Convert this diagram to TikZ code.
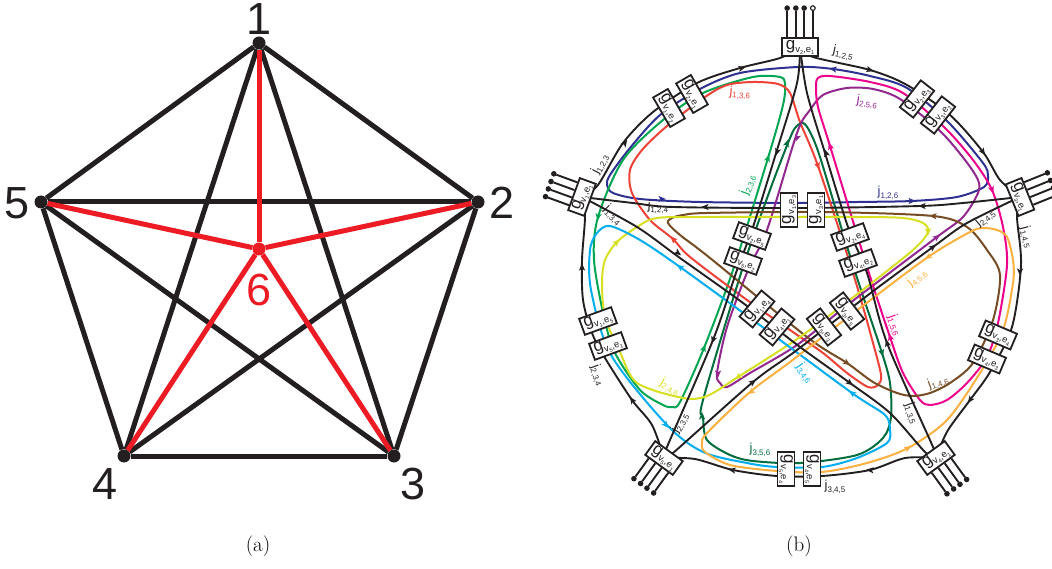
\documentclass[tikz,border=0pt]{standalone}
\usepackage{fontspec}
\newfontfamily\labelfont{Liberation Sans}
\usetikzlibrary{calc,backgrounds}
\definecolor{DarkLine}{RGB}{35,31,32}
\definecolor{RedEdge}{RGB}{237,28,36}
\definecolor{WireNavy}{RGB}{46,49,146}
\definecolor{WireGreen}{RGB}{0,166,81}
\definecolor{WireRed}{RGB}{239,65,54}
\definecolor{WireDark}{RGB}{0,110,60}
\definecolor{WirePurple}{RGB}{146,39,143}
\definecolor{WireMagenta}{RGB}{236,0,140}
\definecolor{WireBrown}{RGB}{117,76,36}
\definecolor{WireLime}{RGB}{215,223,35}
\definecolor{WireCyan}{RGB}{0,174,239}
\definecolor{WireOrange}{RGB}{251,176,64}
\newcommand{\gname}[2]{{\fontsize{17}{17}\selectfont g}\raisebox{-3pt}{\fontsize{9.5}{10}\selectfont v\raisebox{-2pt}{\fontsize{5.5}{6}\selectfont #1},e\raisebox{-2pt}{\fontsize{5.5}{6}\selectfont #2}}}
\newcommand{\jname}[1]{j\raisebox{-2.5pt}{\fontsize{8}{8}\selectfont #1}}
\tikzset{
  edgeline/.style={DarkLine,line width=5pt},
  rededge/.style={RedEdge,line width=5pt},
  vertexdot/.style={circle,fill=DarkLine,inner sep=0pt,minimum size=13pt},
  numlabel/.style={font=\labelfont\fontsize{45}{45}\selectfont,text=DarkLine,inner sep=0pt},
  gbox/.style={draw=DarkLine,fill=white,line width=1.8pt,minimum width=34pt,
    minimum height=17pt,inner sep=0pt,font=\labelfont,text=DarkLine},
  wire/.style={line width=1.9pt,DarkLine},
  loopwire/.style={line width=2pt},
  jlabel/.style={font=\labelfont\fontsize{13}{13}\selectfont,inner sep=0pt},
  stubtip/.style={circle,draw=DarkLine,fill=DarkLine,line width=1pt,inner sep=0pt,minimum size=4.5pt},
}
\begin{document}
\begin{tikzpicture}[x=1pt,y=-1pt]
\useasboundingbox (0,0) rectangle (1052,569);
% graph
\node[vertexdot] (n1) at (259,43) {};
\node[vertexdot] (n2) at (478,202) {};
\node[vertexdot] (n3) at (394,456) {};
\node[vertexdot] (n4) at (124,456) {};
\node[vertexdot] (n5) at (41,202) {};
\node[circle,fill=RedEdge,inner sep=0pt,minimum size=13pt] (n6) at (259,249) {};
\begin{scope}[on background layer]
\foreach \a/\b in {1/2,2/3,3/4,4/5,5/1,1/3,1/4,2/4,2/5,3/5}
  \draw[edgeline] (n\a) -- (n\b);
\foreach \a in {1,...,5}
  \draw[rededge] (n\a) -- (n6);
\end{scope}
\node[numlabel] (l1) at (259,19) {1};
\node[numlabel] (l2) at (502,203) {2};
\node[numlabel] (l3) at (413,484) {3};
\node[numlabel] (l4) at (105,484) {4};
\node[numlabel] (l5) at (17,203) {5};
\node[numlabel,text=RedEdge] (l6) at (259,290) {6};
\node[font=\fontsize{21}{21}\selectfont] (capa) at (258,546) {(a)};
\node[font=\fontsize{21}{21}\selectfont] (capb) at (799,546) {(b)};
% vertex boxes
\node[gbox,minimum width=36pt,minimum height=18pt] (vT) at (800,47) {\gname{2}{1}};
\node[gbox,rotate=70] (vL) at (582,197) {\gname{1}{1}};
\node[gbox,rotate=-68] (vR) at (1020,197) {\gname{3}{1}};
\node[gbox,rotate=-36] (vA) at (664,458) {\gname{5}{1}};
\node[gbox,rotate=36] (vB) at (936,458) {\gname{4}{1}};
% edge boxes
\foreach \n/\x/\y/\r/\i/\e in {
  a/669/108/-60/1/2,b/692/94/-60/2/1,c/917/99/52/2/3,d/938/115/52/3/2,
  e/598/321/20/1/5,f/608/346/20/5/1,g/998/335/-23/3/4,h/987/359/-23/4/3,
  i/786/469/-90/5/4,j/812/469/-90/4/5,k/789/210/90/1/3,l/816/210/90/3/1,
  m/752/236/-20/2/5,o/743/261/-20/5/2,p/850/237/20/2/4,q/858/263/20/4/2,
  r/757/309/50/1/4,s/777/327/50/4/1,t/824/327/-52/5/3,u/847/311/-52/3/5}
  \node[gbox,rotate=\r] (g\n) at (\x,\y) {\gname{\i}{\e}};
% stubs
\foreach \b/\l/\r/\d in {vT/north west/north east/29,vL/north west/north east/25,
  vR/north west/north east/25,vA/south east/south west/25,vB/south east/south west/26}
  \foreach \p/\i in {.16/1,.39/2,.61/3,.84/4}{
    \coordinate (s\b\i) at ($(\b.\l)!\p!(\b.\r)$);
    \coordinate (e\b\i) at ($(s\b\i)!\d pt!90:(\b.\r)$);
    \node[stubtip] (t\b\i) at (e\b\i) {};
    \draw[wire] (s\b\i) -- (t\b\i);
  }
\node[stubtip,fill=white] (tvTw) at (evT4) {};
% wires
\begin{scope}[on background layer]
\draw[loopwire,WireNavy] plot[smooth cycle] coordinates {(798,67) (740,73) (700,89) (660,115) (630,148) (610,175) (607,185) (613,193) (640,199) (700,202) (800,203) (857,202) (912,201) (957,197) (984,187) (988,176) (983,163) (948,122) (907,88) (870,76) (833,69)};
\draw[loopwire,WireGreen] plot[smooth cycle] coordinates {(785,84) (780,77) (753,77) (703,93) (663,120) (623,160) (598,217) (594,260) (604,317) (615,353) (640,390) (663,405) (672,407) (680,402) (704,348) (733,270) (768,158) (783,105)};
\draw[loopwire,WireRed] plot[smooth cycle] coordinates {(630,170) (632,193) (650,220) (673,239) (690,257) (747,300) (790,330) (823,353) (847,373) (868,387) (878,385) (881,375) (873,343) (853,273) (818,166) (800,122) (790,93) (778,84) (753,82) (727,85) (705,97) (667,126) (642,150)};
\draw[loopwire,WireDark] plot[smooth cycle] coordinates {(703,417) (707,440) (730,455) (753,461) (800,463) (857,455) (883,438) (891,417) (890,383) (882,353) (862,293) (845,240) (820,157) (810,132) (803,123) (795,128) (788,143) (770,190) (742,270) (703,400)};
\draw[loopwire,WirePurple] plot[smooth cycle] coordinates {(720,383) (717,373) (727,327) (748,270) (767,230) (797,133) (810,110) (823,95) (847,88) (873,89) (900,99) (940,131) (965,160) (978,180) (978,193) (963,217) (937,237) (850,303) (797,345) (750,373) (727,387)};
\draw[loopwire,WireMagenta] plot[smooth cycle] coordinates {(818,78) (830,76) (870,82) (903,93) (944,127) (973,160) (992,190) (1003,227) (1007,265) (998,323) (987,357) (967,383) (947,400) (930,405) (920,400) (903,373) (890,337) (868,270) (830,146) (818,107) (816,87)};
\draw[loopwire,WireBrown] plot[smooth cycle] coordinates {(668,223) (672,218) (683,215) (707,213) (823,212) (933,216) (967,227) (987,250) (1000,275) (993,320) (973,363) (950,383) (930,393) (913,396) (897,393) (873,382) (847,363) (807,337) (710,258) (680,235)};
\draw[loopwire,WireLime] plot[smooth cycle] coordinates {(928,232) (923,223) (903,218) (857,217) (707,217) (657,218) (637,227) (617,242) (605,260) (602,283) (605,317) (620,352) (637,383) (683,398) (707,396) (738,377) (800,337) (860,292) (913,250)};
\draw[loopwire,WireCyan] plot[smooth cycle] coordinates {(610,226) (597,233) (590,250) (591,290) (611,355) (667,425) (703,452) (747,463) (777,467) (822,467) (857,458) (887,443) (890,430) (885,415) (852,393) (757,323) (680,267) (640,240)};
\draw[loopwire,WireOrange] plot[smooth cycle] coordinates {(702,443) (705,452) (730,465) (777,471) (822,472) (867,463) (908,448) (947,420) (980,373) (1003,330) (1013,283) (1013,260) (1007,237) (997,230) (983,228) (970,232) (928,257) (860,308) (790,362) (750,392) (707,433)};
% black edges
\draw[wire] plot[smooth] coordinates {(vL) (598,185) (623,143) (653,112) (697,83) (740,68) (780,58) (vT)};
\draw[wire] plot[smooth] coordinates {(vT) (813,57) (870,70) (907,85) (950,115) (983,152) (1000,180) (vR)};
\draw[wire] plot[smooth] coordinates {(vR) (1017,217) (1021,265) (1012,327) (990,372) (970,400) (950,427) (943,440) (vB)};
\draw[wire] plot[smooth] coordinates {(vB) (905,458) (870,470) (822,476) (777,476) (733,470) (695,459) (vA)};
\draw[wire] plot[smooth] coordinates {(vA) (652,425) (632,400) (605,358) (592,333) (583,300) (582,260) (585,217) (vL)};
\draw[wire] plot[smooth] coordinates {(vL) (633,203) (673,207) (800,208) (920,206) (963,203) (vR)};
\draw[wire] plot[smooth] coordinates {(vT) (797,83) (777,150) (753,227) (737,270) (713,340) (667,447) (vA)};
\draw[wire] plot[smooth] coordinates {(vT) (807,93) (825,153) (848,227) (867,273) (887,343) (933,447) (vB)};
\draw[wire] plot[smooth] coordinates {(vL) (637,227) (680,258) (743,303) (800,347) (850,383) (890,413) (925,452) (vB)};
\draw[wire] plot[smooth] coordinates {(vA) (673,453) (753,382) (797,350) (872,292) (933,247) (967,223) (vR)};
\end{scope}
% arrow tips
\foreach \x/\y/\a/\c in {
  742/68/15/DarkLine,625/143/55/DarkLine,870/70/-15/DarkLine,983/152/-55/DarkLine,
  1020/272/-90/DarkLine,970/400/-125/DarkLine,870/470/175/DarkLine,732/470/170/DarkLine,
  632/400/125/DarkLine,582/267/90/DarkLine,705/207/180/DarkLine,922/206/180/DarkLine,
  777/152/-107/DarkLine,713/340/-110/DarkLine,826/153/107/DarkLine,887/343/107/DarkLine,
  678/253/-37/DarkLine,850/383/-37/DarkLine,753/382/37/DarkLine,933/247/37/DarkLine,
  662/199/0/WireNavy,912/201/0/WireNavy,833/69/170/WireNavy,
  768/158/72/WireGreen,704/348/70/WireGreen,598/217/-100/WireGreen,
  673/239/135/WireRed,818/166/-72/WireRed,
  787/143/72/WireDark,702/416/90/WireDark,882/353/-75/WireDark,
  797/138/-110/WirePurple,718/374/-90/WirePurple,937/237/38/WirePurple,
  830/146/107/WireMagenta,890/337/107/WireMagenta,992/190/-72/WireMagenta,
  933/216/175/WireBrown,847/363/-35/WireBrown,
  738/377/-145/WireLime,617/242/45/WireLime,928/232/-90/WireLime,
  680/267/143/WireCyan,852/393/145/WireCyan,666/425/-50/WireCyan,
  751/392/-143/WireOrange,928/257/-147/WireOrange,908/448/30/WireOrange}
  \fill[\c,shift={(\x,\y)},rotate=\a] (-3.6,-3.1) -- (3.8,0) -- (-3.6,3.1) -- (-1.8,0) -- cycle;
% wire labels
\foreach \n/\x/\y/\r/\c/\t in {
  a/843/53/-12/DarkLine/{1,2,5},b/600/164/62/DarkLine/{1,2,3},c/613/215/-45/DarkLine/{1,3,4},
  d/658/207/-3/DarkLine/{1,2,4},e/740/93/-5/WireRed/{1,3,6},f/748/185/70/WireGreen/{2,3,6},
  g/888/193/0/WireNavy/{1,2,6},h/867/102/-8/WirePurple/{2,5,6},i/985/218/40/DarkLine/{2,4,5},
  j/1027/237/-75/DarkLine/{1,4,5},k/917/278/40/WireOrange/{4,5,6},l/895/325/-70/WireMagenta/{1,5,6},
  m/938/382/20/WireBrown/{1,4,6},o/912/413/-70/DarkLine/{1,3,5},p/835/487/0/DarkLine/{3,4,5},
  q/805/373/-55/WireCyan/{3,4,6},r/760/450/0/WireDark/{3,5,6},s/680/423/60/DarkLine/{2,3,5},
  t/670/387/-30/WireLime/{2,4,6},u/598/375/-70/DarkLine/{2,3,4}}
  \node[jlabel,rotate=\r,text=\c] (j\n) at (\x,\y) {\jname{\t}};
\end{tikzpicture}
\end{document}
